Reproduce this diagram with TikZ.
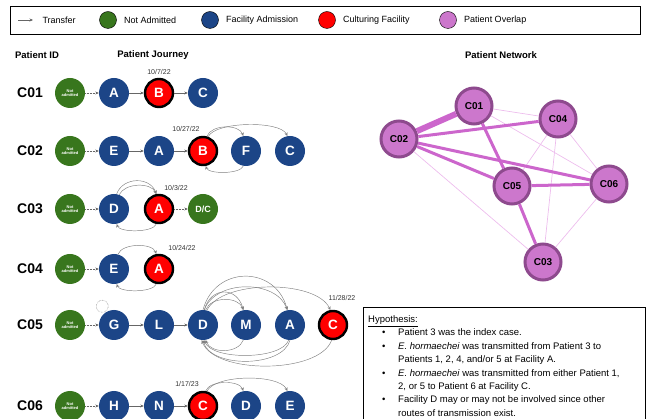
\documentclass[tikz,border=0pt]{standalone}
\usepackage{fontspec}
\setmainfont{Liberation Sans}
\usetikzlibrary{arrows.meta,positioning}
\definecolor{notgreen}{HTML}{38761D}
\definecolor{admblue}{HTML}{1C4587}
\definecolor{cultred}{HTML}{FF0000}
\definecolor{overlap}{HTML}{CC77CC}
\definecolor{overlapedge}{HTML}{8E4A8E}
\definecolor{tiethick}{HTML}{CC66CC}
\definecolor{tiethin}{HTML}{EDBDED}
\newcommand{\hypbul}{\hspace*{14pt}\makebox[16pt][l]{\textbullet}}
\newcommand{\hypind}{\hspace*{30pt}}
\tikzset{
  stop/.style={circle, minimum size=30pt, inner sep=0pt, text=white,
    font=\bfseries\fontsize{13.5}{13.5}\selectfont},
  adm/.style={stop, fill=admblue},
  cult/.style={stop, fill=cultred, draw=black, line width=2.4pt, minimum size=28pt},
  notadm/.style={stop, fill=notgreen, align=center, font=\bfseries\fontsize{4}{4.6}\selectfont},
  dcstop/.style={stop, fill=notgreen, font=\bfseries\fontsize{9}{9}\selectfont},
  pid/.style={font=\bfseries\fontsize{14}{14}\selectfont},
  when/.style={font=\fontsize{7}{7}\selectfont, text=black!80},
  head/.style={font=\bfseries\fontsize{9.5}{9.5}\selectfont},
  xfer/.style={-{Stealth[length=3.5pt,width=3pt]}, black!60, line width=0.5pt},
  xferdot/.style={xfer, densely dotted},
  hop/.style={xfer, black!50, line width=0.45pt},
  keydot/.style={circle, minimum size=17pt, inner sep=0pt, draw=black, line width=0.4pt},
  keytext/.style={anchor=west, font=\fontsize{9}{9}\selectfont},
  pt/.style={circle, minimum size=36pt, inner sep=0pt, fill=overlap, draw=overlapedge,
    line width=3pt, font=\bfseries\fontsize{10}{10}\selectfont},
  tie/.style={tiethick, line width=3pt},
  weak/.style={tiethin, line width=0.7pt}
}
\begin{document}
\begin{tikzpicture}[x=1pt, y=1pt]
  \useasboundingbox (0,0) rectangle (648,-419);
  \clip (0,0) rectangle (648,-419);

  % legend
  \draw[line width=0.8pt] (10,-6) rectangle (640,-34);
  \coordinate (ks) at (18,-20);
  \coordinate (ke) at (33,-20);
  \draw[xfer] (ks) -- (ke);
  \node[keytext] (k1) at (39,-20) {Transfer};
  \node[keydot, fill=notgreen] (kg) at (108,-20) {};
  \node[keytext, right=4pt of kg] (k2) {Not Admitted};
  \node[keydot, fill=admblue] (kb) at (210,-20) {};
  \node[keytext, right=4pt of kb] (k3) {Facility Admission};
  \node[keydot, fill=cultred] (kr) at (327,-20) {};
  \node[keytext, right=4pt of kr] (k4) {Culturing Facility};
  \node[keydot, fill=overlap] (kp) at (448,-20) {};
  \node[keytext, right=4pt of kp] (k5) {Patient Overlap};

  % headings
  \node[head] (hid) at (37,-55) {Patient ID};
  \node[head] (hjr) at (153,-55) {Patient Journey};
  \node[head] (hnw) at (501,-55) {Patient Network};

  % C01
  \node[pid] (id1) at (30,-93) {C01};
  \node[notadm] (r1n) at (70,-93) {Not\\admitted};
  \node[adm] (r1a) at (114,-93) {A};
  \node[cult] (r1b) at (159,-93) {B};
  \node[adm] (r1c) at (203,-93) {C};
  \node[when] (d1) at (159,-72) {10/7/22};
  \draw[xferdot] (r1n) -- (r1a);
  \draw[xfer] (r1a) -- (r1b);
  \draw[xfer] (r1b) -- (r1c);

  % C02
  \node[pid] (id2) at (30,-151) {C02};
  \node[notadm] (r2n) at (70,-151) {Not\\admitted};
  \node[adm] (r2e) at (114,-151) {E};
  \node[adm] (r2a) at (159,-151) {A};
  \node[cult] (r2b) at (203,-151) {B};
  \node[adm] (r2f) at (246,-151) {F};
  \node[adm] (r2c) at (290,-151) {C};
  \node[when] (d2) at (186,-129) {10/27/22};
  \draw[xferdot] (r2n) -- (r2e);
  \draw[xfer] (r2e) -- (r2a);
  \draw[xfer] (r2a) -- (r2b);
  \draw[hop] (r2b.75) to[out=70,in=110,looseness=0.9] (r2f.100);
  \draw[hop] (r2b.70) to[out=65,in=115,looseness=0.55] (r2c.100);
  \draw[hop] (r2f.260) to[out=-110,in=-70,looseness=0.6] (r2b.280);

  % C03
  \node[pid] (id3) at (30,-209) {C03};
  \node[notadm] (r3n) at (70,-209) {Not\\admitted};
  \node[adm] (r3d) at (114,-209) {D};
  \node[cult] (r3a) at (159,-209) {A};
  \node[dcstop] (r3x) at (203,-209) {D/C};
  \node[when] (d3) at (176,-188) {10/3/22};
  \draw[xferdot] (r3n) -- (r3d);
  \draw[xferdot] (r3a) -- (r3x);
  \draw[hop] (r3d.80) to[out=70,in=110,looseness=1.2] (r3a.100);
  \draw[hop] (r3d.70) to[out=65,in=115,looseness=0.9] (r3a.100);
  \draw[hop] (r3a.260) to[out=-110,in=-70,looseness=0.6] (r3d.280);

  % C04
  \node[pid] (id4) at (30,-269) {C04};
  \node[notadm] (r4n) at (70,-269) {Not\\admitted};
  \node[adm] (r4e) at (114,-269) {E};
  \node[cult] (r4a) at (159,-269) {A};
  \node[when] (d4) at (182,-248) {10/24/22};
  \draw[xferdot] (r4n) -- (r4e);
  \draw[hop] (r4e.75) to[out=70,in=110,looseness=0.8] (r4a.100);
  \draw[hop] (r4a.260) to[out=-110,in=-70,looseness=0.6] (r4e.280);

  % C05
  \node[pid] (id5) at (30,-325) {C05};
  \node[notadm] (r5n) at (70,-325) {Not\\admitted};
  \node[adm] (r5g) at (114,-325) {G};
  \node[adm] (r5l) at (159,-325) {L};
  \node[adm] (r5d) at (203,-325) {D};
  \node[adm] (r5m) at (246,-325) {M};
  \node[adm] (r5a) at (290,-325) {A};
  \node[cult] (r5c) at (333,-325) {C};
  \node[when] (d5) at (342,-298) {11/28/22};
  \draw[xferdot] (r5n) -- (r5g);
  \draw[black!55, densely dotted, line width=0.5pt] (r5g.north west) ++(-1,8) circle (6pt);
  \draw[xfer] (r5g) -- (r5l);
  \draw[xfer] (r5l) -- (r5d);
  \draw[hop] (r5d.80) to[out=70,in=110,looseness=1.0] (r5m.100);
  \draw[hop] (r5d.85) to[out=75,in=105,looseness=1.6] (r5m.100);
  \draw[hop] (r5d.85) to[out=70,in=110,looseness=1.0] (r5a.100);
  \draw[hop] (r5d.90) to[out=75,in=105,looseness=1.4] (r5a.100);
  \draw[hop] (r5d.75) to[out=65,in=115,looseness=0.7] (r5c.100);
  \draw[hop] (r5m.260) to[out=-110,in=-70,looseness=1.0] (r5d.280);
  \draw[hop] (r5a.265) to[out=-110,in=-70,looseness=0.65] (r5d.275);
  \draw[hop] (r5a.270) to[out=-105,in=-75,looseness=0.85] (r5d.270);
  \draw[hop] (r5c.265) to[out=-110,in=-70,looseness=0.72] (r5d.265);

  % C06
  \node[pid] (id6) at (30,-406) {C06};
  \node[notadm] (r6n) at (70,-406) {Not\\admitted};
  \node[adm] (r6h) at (114,-406) {H};
  \node[adm] (r6o) at (159,-406) {N};
  \node[cult] (r6c) at (203,-406) {C};
  \node[adm] (r6d) at (246,-406) {D};
  \node[adm] (r6e) at (290,-406) {E};
  \node[when] (d6) at (187,-384) {1/17/23};
  \draw[xferdot] (r6n) -- (r6h);
  \draw[xfer] (r6h) -- (r6o);
  \draw[xfer] (r6o) -- (r6c);
  \draw[hop] (r6c.80) to[out=70,in=110,looseness=0.8] (r6d.100);
  \draw[hop] (r6c.75) to[out=65,in=115,looseness=0.6] (r6e.100);

  % patient network
  \node[pt] (p01) at (474,-106) {C01};
  \node[pt] (p02) at (399,-139) {C02};
  \node[pt] (p03) at (543,-262) {C03};
  \node[pt] (p04) at (558,-119) {C04};
  \node[pt] (p05) at (512,-186) {C05};
  \node[pt] (p06) at (609,-184) {C06};
  \draw[weak] (p01) -- (p04);
  \draw[weak] (p01) -- (p06);
  \draw[weak] (p04) -- (p05);
  \draw[weak] (p04) -- (p06);
  \draw[weak] (p04) -- (p03);
  \draw[weak] (p02) -- (p03);
  \draw[weak] (p06) -- (p03);
  \draw[tiethick, line width=6pt] (p01) -- (p02);
  \draw[tie] (p02) -- (p04);
  \draw[tie] (p01) -- (p05);
  \draw[tie] (p02) -- (p05);
  \draw[tie] (p02) -- (p06);
  \draw[tie] (p05) -- (p06);
  \draw[tie] (p05) -- (p03);

  % hypothesis box
  \draw[line width=0.8pt] (363,-425) |- (645,-307) -- (645,-425);
  \node[anchor=north west, align=left, inner sep=0pt,
    font=\fontsize{9.5}{13.4}\selectfont] (hyp) at (368,-315.5) {%
    \underline{Hypothesis:}\\
    \hypbul Patient 3 was the index case.\\
    \hypbul\textit{E. hormaechei} was transmitted from Patient 3 to\\
    \hypind Patients 1, 2, 4, and/or 5 at Facility A.\\
    \hypbul\textit{E. hormaechei} was transmitted from either Patient 1,\\
    \hypind 2, or 5 to Patient 6 at Facility C.\\
    \hypbul Facility D may or may not be involved since other\\
    \hypind routes of transmission exist.};
\end{tikzpicture}
\end{document}
